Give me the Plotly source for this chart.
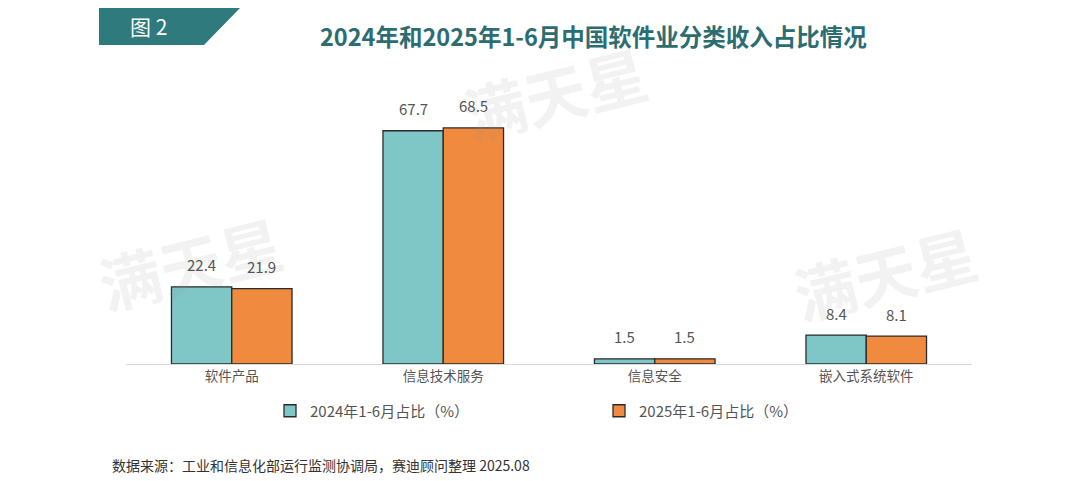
import plotly.graph_objects as go

categories = ["软件产品", "信息技术服务", "信息安全", "嵌入式系统软件"]
values_2024 = [22.4, 67.7, 1.5, 8.4]
values_2025 = [21.9, 68.5, 1.5, 8.1]
series_names = ["2024年1-6月占比（%）", "2025年1-6月占比（%）"]
title_text = "2024年和2025年1-6月中国软件业分类收入占比情况"
badge_text = "图 2"
source_text = "数据来源：工业和信息化部运行监测协调局，赛迪顾问整理 2025.08"
watermark = "满天星"

OFF = 8  # page body margin
W, H = 1080 - OFF, 481 - OFF
# target plot area in screen px: x 126..972, y 88..364
L, T = 126 - OFF, 88 - OFF
R = W - (972 - OFF)
B = H - (364 - OFF)
FONT = "Noto Sans CJK SC"

def px(x):
    return (x - OFF - L) / (W - L - R)

def py(y):
    return (H - B - (y - OFF)) / (H - T - B)

fig = go.Figure()
fig.add_bar(x=categories, y=values_2024, name=series_names[0],
            marker=dict(color="#7FC6C6", line=dict(color="#2b2b2b", width=1.3)))
fig.add_bar(x=categories, y=values_2025, name=series_names[1],
            marker=dict(color="#F08A3E", line=dict(color="#2b2b2b", width=1.3)))

shapes = [
    dict(type="path", xref="paper", yref="paper", layer="above",
         path=f"M {px(99)} {py(7)} L {px(241)} {py(7)} L {px(204)} {py(45)} L {px(99)} {py(45)} Z",
         fillcolor="#2E7A7D", line=dict(width=0)),
    dict(type="line", xref="paper", yref="paper", x0=px(240), x1=px(977), y0=py(6), y1=py(6),
         line=dict(color="#8a9a9a", width=1.5)),
]

annotations = [
    dict(text=badge_text, x=px(148), y=py(26), xref="paper", yref="paper", showarrow=False,
         font=dict(size=21, color="white", family=FONT), xanchor="center", yanchor="middle"),
    dict(text=title_text, x=px(593), y=py(36), xref="paper", yref="paper", showarrow=False,
         font=dict(size=23.5, color="#2C6D71", family=FONT, weight=600), xanchor="center", yanchor="middle"),
    dict(text=source_text, x=px(110), y=py(465), xref="paper", yref="paper", showarrow=False,
         font=dict(size=14, color="#333333", family=FONT), xanchor="left", yanchor="middle"),
]
for (wx, wy) in [(555, 92), (190, 262), (885, 272)]:
    annotations.append(dict(text=watermark, x=px(wx), y=py(wy), xref="paper", yref="paper",
                            showarrow=False, textangle=-14,
                            font=dict(size=62, color="rgba(150,150,150,0.12)", family=FONT, weight="bold"),
                            xanchor="center", yanchor="middle"))

# value labels above each bar
for vals, shift in [(values_2024, -30), (values_2025, 30)]:
    for c, v in zip(categories, vals):
        annotations.append(dict(x=c, y=v, xref="x", yref="y", text=f"{v:.1f}", showarrow=False,
                                xshift=shift, yshift=22, yanchor="middle",
                                font=dict(size=15, color="#555555", family=FONT)))

fig.update_layout(
    width=W, height=H,
    margin=dict(l=L, r=R, t=T, b=B),
    paper_bgcolor="white", plot_bgcolor="white",
    barmode="group", bargap=0.43, bargroupgap=0,
    font=dict(family=FONT, color="#555555"),
    showlegend=True,
    legend=dict(orientation="h", x=px(270), y=py(411), xanchor="left", yanchor="middle",
                entrywidth=284, entrywidthmode="pixels", itemwidth=30,
                font=dict(size=15, color="#555555", family=FONT), bgcolor="rgba(0,0,0,0)"),
    xaxis=dict(showline=True, linecolor="#d9d9d9", linewidth=1, ticks="", showgrid=False,
               tickfont=dict(size=13.5, color="#555555", family=FONT)),
    yaxis=dict(range=[0, 80.1], visible=False, showgrid=False, zeroline=False),
    shapes=shapes, annotations=annotations,
)

fig.write_html("out.html")
